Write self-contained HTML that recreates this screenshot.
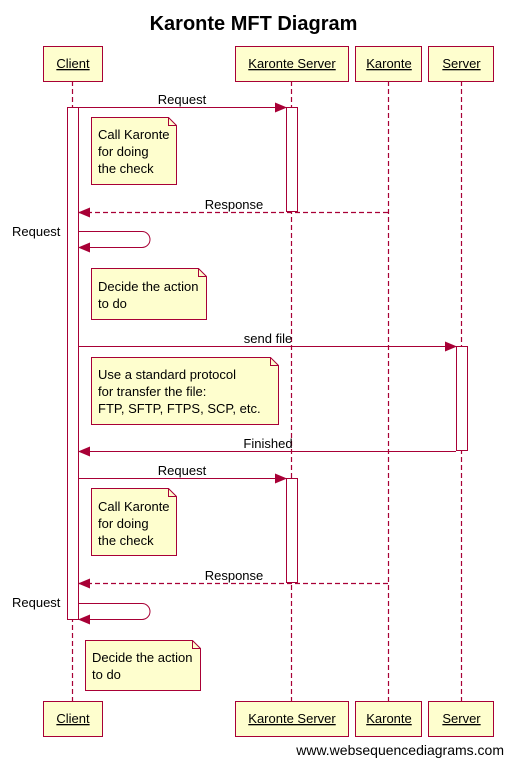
<!DOCTYPE html>
<html><head><meta charset="utf-8"><style>
html,body{margin:0;padding:0;background:#fff;}
svg{display:block;}
text{font-family:"Liberation Sans",Arial,sans-serif;font-size:13px;fill:#000;}
</style></head><body>
<svg width="505" height="758" viewBox="0 0 505 758" xmlns="http://www.w3.org/2000/svg">
<defs>
<marker id="a" markerWidth="12" markerHeight="10" refX="11" refY="5" orient="auto" markerUnits="userSpaceOnUse">
<path d="M0,0 L12,5 L0,10 Z" fill="#A80036"/></marker>
</defs>
<text x="253.5" y="30" text-anchor="middle" style="font-size:20px;font-weight:bold">Karonte MFT Diagram</text>
<g stroke="#A80036" stroke-width="1.2" stroke-dasharray="5,3" fill="none">
<line x1="72.5" y1="81" x2="72.5" y2="701"/>
<line x1="291.5" y1="81" x2="291.5" y2="701"/>
<line x1="388.5" y1="81" x2="388.5" y2="701"/>
<line x1="461.5" y1="81" x2="461.5" y2="701"/>
</g>
<g stroke="#A80036" fill="#FEFECE">
<rect x="43.5" y="46.5" width="59" height="35"/>
<rect x="235.5" y="46.5" width="113" height="35"/>
<rect x="355.5" y="46.5" width="66" height="35"/>
<rect x="428.5" y="46.5" width="65" height="35"/>
<rect x="43.5" y="701.5" width="59" height="35"/>
<rect x="235.5" y="701.5" width="113" height="35"/>
<rect x="355.5" y="701.5" width="66" height="35"/>
<rect x="428.5" y="701.5" width="65" height="35"/>
</g>
<g text-anchor="middle" text-decoration="underline">
<text x="73" y="68">Client</text><text x="292" y="68">Karonte Server</text>
<text x="389" y="68">Karonte</text><text x="461.5" y="68">Server</text>
<text x="73" y="723">Client</text><text x="292" y="723">Karonte Server</text>
<text x="389" y="723">Karonte</text><text x="461.5" y="723">Server</text>
</g>
<g stroke="#A80036" fill="#fff">
<rect x="67.5" y="107.5" width="11" height="512"/>
<rect x="286.5" y="107.5" width="11" height="104"/>
<rect x="286.5" y="478.5" width="11" height="104"/>
<rect x="456.5" y="346.5" width="11" height="104"/>
</g>
<g stroke="#A80036" fill="none">
<line x1="78" y1="107.5" x2="286" y2="107.5" marker-end="url(#a)"/>
<line x1="388" y1="212.5" x2="79" y2="212.5" stroke-width="1.2" stroke-dasharray="5,3" marker-end="url(#a)"/>
<path d="M78,231.5 H142 A8,8 0 0 1 142,247.5 H79" marker-end="url(#a)"/>
<line x1="78" y1="346.5" x2="456" y2="346.5" marker-end="url(#a)"/>
<line x1="456" y1="451.5" x2="79" y2="451.5" marker-end="url(#a)"/>
<line x1="78" y1="478.5" x2="286" y2="478.5" marker-end="url(#a)"/>
<line x1="388" y1="583.5" x2="79" y2="583.5" stroke-width="1.2" stroke-dasharray="5,3" marker-end="url(#a)"/>
<path d="M78,603.5 H142 A8,8 0 0 1 142,619.5 H79" marker-end="url(#a)"/>
</g>
<g stroke="#A80036" fill="#FEFECE">
<path d="M91.5,117.5 H168.5 L176.5,125.5 V184.5 H91.5 Z"/>
<path d="M91.5,268.5 H198.5 L206.5,276.5 V319.5 H91.5 Z"/>
<path d="M91.5,357.5 H270.5 L278.5,365.5 V424.5 H91.5 Z"/>
<path d="M91.5,488.5 H168.5 L176.5,496.5 V555.5 H91.5 Z"/>
<path d="M85.5,640.5 H192.5 L200.5,648.5 V690.5 H85.5 Z"/>
</g>
<g stroke="#A80036" fill="none">
<path d="M168.5,117.5 V125.5 H176.5"/>
<path d="M198.5,268.5 V276.5 H206.5"/>
<path d="M270.5,357.5 V365.5 H278.5"/>
<path d="M168.5,488.5 V496.5 H176.5"/>
<path d="M192.5,640.5 V648.5 H200.5"/>
</g>
<text x="98" y="139">Call Karonte</text><text x="98" y="156">for doing</text><text x="98" y="173">the check</text>
<text x="98" y="291">Decide the action</text><text x="98" y="308">to do</text>
<text x="98" y="379">Use a standard protocol</text><text x="98" y="396">for transfer the file:</text><text x="98" y="413">FTP, SFTP, FTPS, SCP, etc.</text>
<text x="98" y="511">Call Karonte</text><text x="98" y="528">for doing</text><text x="98" y="545">the check</text>
<text x="92" y="662">Decide the action</text><text x="92" y="679">to do</text>
<g text-anchor="middle">
<text x="182" y="104">Request</text>
<text x="234" y="209">Response</text>
<text x="268" y="343">send file</text>
<text x="268" y="448">Finished</text>
<text x="182" y="475">Request</text>
<text x="234" y="580">Response</text>
</g>
<text x="12" y="236">Request</text>
<text x="12" y="607">Request</text>
<text x="504" y="755" text-anchor="end" style="font-size:14px">www.websequencediagrams.com</text>
</svg>
</body></html>
